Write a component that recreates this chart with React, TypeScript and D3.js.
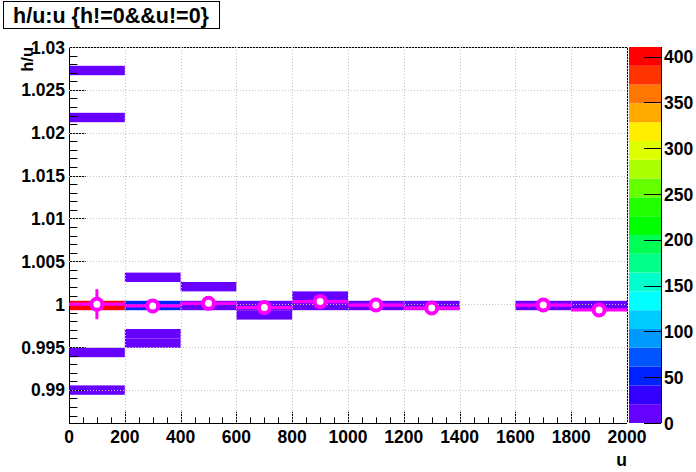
import React, { useRef, useEffect } from 'react';
import * as d3 from 'd3';

// 2D histogram h/u vs u (COLZ) with profile overlay
const xMin = 0;
const xMax = 2000;
const nXBins = 10;
const yLo = 0.98614;
const yHi = 1.03;
const nYBins = 40;

const cellXBin = [0, 0, 0, 0, 0, 1, 1, 1, 1, 2, 2, 3, 3, 4, 4, 5, 6, 8, 9];
const cellYBin = [37, 32, 12, 7, 3, 15, 12, 9, 8, 14, 12, 12, 11, 13, 12, 12, 12, 12, 12];
const cellCount = [3, 2, 391, 4, 2, 5, 55, 3, 4, 6, 15, 10, 6, 8, 12, 18, 16, 14, 12];

const profBin = [0, 1, 2, 3, 4, 5, 6, 8, 9];
const profMean = [1.0, 0.9998, 1.0001, 0.9996, 1.0003, 0.9999, 0.99955, 0.9999, 0.99933];
const profErr = [0.00175, 0.0002, 0.0002, 0.0002, 0.0002, 0.0001, 0.0001, 0.0001, 0.0001];

const xTicks = [0, 200, 400, 600, 800, 1000, 1200, 1400, 1600, 1800, 2000];
const xTickLabels = ['0', '200', '400', '600', '800', '1000', '1200', '1400', '1600', '1800', '2000'];
const yTicks = [0.99, 0.995, 1, 1.005, 1.01, 1.015, 1.02, 1.025, 1.03];
const yTickLabels = ['0.99', '0.995', '1', '1.005', '1.01', '1.015', '1.02', '1.025', '1.03'];
const zTicks = [0, 50, 100, 150, 200, 250, 300, 350, 400];

// palette, bottom -> top (20 contour levels)
const palette = [
  '#6600ff', '#3300ff', '#0022ff', '#0055ff', '#0099ff', '#00ccff', '#00ffff', '#00ffcc', '#00ff88', '#00ff55',
  '#00ff00', '#22ff00', '#66ff00', '#aaff00', '#ddff00', '#ffee00', '#ffaa00', '#ff7700', '#ff3300', '#ff0000',
];

const W = 696;
const H = 472;
const FONT = '"Liberation Sans", Arial, Helvetica, sans-serif';
const FS = 17.5;

const App = () => {
  const svgRef = useRef<SVGSVGElement>(null);

  useEffect(() => {
    const svg = d3.select(svgRef.current);
    svg.selectAll('*').remove();

    const left = 69, right = 627, top = 47, bottom = 423;
    const x = d3.scaleLinear().domain([xMin, xMax]).range([left, right]);
    const y = d3.scaleLinear().domain([yLo, yHi]).range([bottom, top]);
    const zMax = d3.max(cellCount)! * 1.05;
    const z = d3.scaleLinear().domain([0, zMax]).range([bottom, top]);
    const nLev = palette.length;
    const colorOf = (c: number) => palette[Math.min(nLev - 1, Math.floor((c / zMax) * nLev))];

    const xW = (xMax - xMin) / nXBins;
    const yW = (yHi - yLo) / nYBins;

    svg.append('rect').attr('width', W).attr('height', H).attr('fill', '#fff');

    // cells
    svg.append('g')
      .selectAll('rect')
      .data(cellCount.map((c, i) => ({ c, xb: cellXBin[i], yb: cellYBin[i] })))
      .join('rect')
      .attr('x', d => x(xMin + d.xb * xW))
      .attr('width', d => x(xMin + (d.xb + 1) * xW) - x(xMin + d.xb * xW))
      .attr('y', d => y(yLo + (d.yb + 1) * yW))
      .attr('height', d => y(yLo + d.yb * yW) - y(yLo + (d.yb + 1) * yW))
      .attr('fill', d => colorOf(d.c));

    const gridStyle = (sel: any) => sel.attr('stroke', '#c4c4c4').attr('stroke-width', 1).attr('stroke-dasharray', '1,2');

    // frame lines (top/right get covered by grid -> dashed look)
    svg.append('line').attr('x1', left).attr('x2', right).attr('y1', top + 0.5).attr('y2', top + 0.5).attr('stroke', '#000');
    svg.append('line').attr('x1', right + 0.5).attr('x2', right + 0.5).attr('y1', top).attr('y2', bottom).attr('stroke', '#000');

    // x axis
    const gx = svg.append('g');
    gx.append('line').attr('x1', left).attr('x2', right).attr('y1', bottom + 0.5).attr('y2', bottom + 0.5).attr('stroke', '#000');
    const xMinor = d3.range(0, 2001, 50);
    gx.selectAll('line.minor').data(xMinor).join('line').attr('class', 'minor')
      .attr('x1', d => Math.round(x(d)) + 0.5).attr('x2', d => Math.round(x(d)) + 0.5)
      .attr('y1', bottom).attr('y2', d => bottom - (d % 200 === 0 ? 11.3 : 5.6))
      .attr('stroke', '#000');
    gx.selectAll('line.grid').data(xTicks).join('line').attr('class', 'grid')
      .attr('x1', d => Math.round(x(d)) + 0.5).attr('x2', d => Math.round(x(d)) + 0.5)
      .attr('y1', bottom).attr('y2', top)
      .call(gridStyle);
    gx.selectAll('text').data(xTicks).join('text')
      .attr('x', d => x(d)).attr('y', 443)
      .attr('text-anchor', 'middle')
      .attr('font-family', FONT).attr('font-weight', 'bold').attr('font-size', FS)
      .text((d, i) => xTickLabels[i]);

    // y axis
    const gy = svg.append('g');
    gy.append('line').attr('x1', left + 0.5).attr('x2', left + 0.5).attr('y1', top).attr('y2', bottom).attr('stroke', '#000');
    const yMinor = d3.range(987, 1031).map(v => v / 1000);
    gy.selectAll('line.minor').data(yMinor).join('line').attr('class', 'minor')
      .attr('x1', left).attr('x2', (d, i) => left + ((987 + i) % 5 === 0 ? 16.7 : 8.4))
      .attr('y1', d => Math.round(y(d)) + 0.5).attr('y2', d => Math.round(y(d)) + 0.5)
      .attr('stroke', '#000');
    gy.selectAll('line.grid').data(yTicks).join('line').attr('class', 'grid')
      .attr('x1', left).attr('x2', right)
      .attr('y1', d => Math.round(y(d)) + 0.5).attr('y2', d => Math.round(y(d)) + 0.5)
      .call(gridStyle);
    gy.selectAll('text').data(yTicks).join('text')
      .attr('x', 65).attr('y', d => y(d) + 6.5)
      .attr('text-anchor', 'end')
      .attr('font-family', FONT).attr('font-weight', 'bold').attr('font-size', FS)
      .text((d, i) => yTickLabels[i]);

    // axis titles
    svg.append('text')
      .attr('x', 627).attr('y', 466)
      .attr('text-anchor', 'end')
      .attr('font-family', FONT).attr('font-weight', 'bold').attr('font-size', FS)
      .text('u');
    svg.append('text')
      .attr('transform', 'translate(33,47) rotate(-90)')
      .attr('text-anchor', 'end')
      .attr('font-family', FONT).attr('font-weight', 'bold').attr('font-size', 16.5)
      .text('h/u');

    // profile
    const gp = svg.append('g');
    const prof = profBin.map((b, i) => ({ b, m: profMean[i], e: profErr[i] }));
    gp.selectAll('line.h').data(prof).join('line').attr('class', 'h')
      .attr('x1', d => x(xMin + d.b * xW)).attr('x2', d => x(xMin + (d.b + 1) * xW))
      .attr('y1', d => y(d.m)).attr('y2', d => y(d.m))
      .attr('stroke', '#ff00ff').attr('stroke-width', 3.3);
    gp.selectAll('line.v').data(prof).join('line').attr('class', 'v')
      .attr('x1', d => x(xMin + (d.b + 0.5) * xW)).attr('x2', d => x(xMin + (d.b + 0.5) * xW))
      .attr('y1', d => y(d.m - d.e)).attr('y2', d => y(d.m + d.e))
      .attr('stroke', '#ff00ff').attr('stroke-width', 3);
    gp.selectAll('circle').data(prof).join('circle')
      .attr('cx', d => x(xMin + (d.b + 0.5) * xW)).attr('cy', d => y(d.m))
      .attr('r', 5.5)
      .attr('fill', '#fff').attr('stroke', '#ff00ff').attr('stroke-width', 4);

    // palette
    const px0 = 629, px1 = 661;
    svg.append('g').selectAll('rect').data(palette).join('rect')
      .attr('x', px0).attr('width', px1 - px0)
      .attr('y', (d, i) => z(((i + 1) * zMax) / nLev))
      .attr('height', (d, i) => z((i * zMax) / nLev) - z(((i + 1) * zMax) / nLev))
      .attr('fill', d => d);
    svg.append('line').attr('x1', px1 + 0.5).attr('x2', px1 + 0.5).attr('y1', top).attr('y2', bottom).attr('stroke', '#000');
    svg.append('g').selectAll('line').data(zTicks).join('line')
      .attr('x1', px1).attr('x2', px1 - 17)
      .attr('y1', d => Math.round(z(d)) + 0.5).attr('y2', d => Math.round(z(d)) + 0.5)
      .attr('stroke', '#000');
    svg.append('g').selectAll('text').data(zTicks).join('text')
      .attr('x', 664).attr('y', d => z(d) + 6.5)
      .attr('font-family', FONT).attr('font-weight', 'bold').attr('font-size', FS)
      .text(d => String(d));

    // title box
    svg.append('rect').attr('x', 3.5).attr('y', 1.5).attr('width', 216).attr('height', 27)
      .attr('fill', '#fff').attr('stroke', '#000');
    svg.append('text')
      .attr('x', 111).attr('y', 22.5)
      .attr('text-anchor', 'middle')
      .attr('font-family', FONT).attr('font-weight', 'bold').attr('font-size', 21.5)
      .text('h/u:u {h!=0&&u!=0}');
  }, []);

  return (
    <svg ref={svgRef} width={W} height={H} style={{ position: 'absolute', left: 0, top: 0 }}></svg>
  );
};

export default App;
